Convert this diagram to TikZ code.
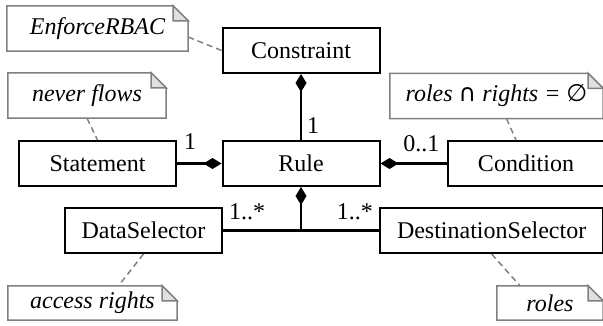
\documentclass[tikz,border=0pt]{standalone}
\usepackage{fontspec}
\setmainfont{Liberation Serif}
\newfontfamily\symbolfont{DejaVu Sans}
\usepackage{tikz}
\usetikzlibrary{positioning,
                arrows.meta}

\begin{document}
\begin{tikzpicture}[x=1pt,y=-1pt,font=\fontsize{24}{28}\selectfont,
  class/.style={draw,line width=2pt,fill=white,minimum width=157pt,minimum height=45pt,inner xsep=15pt},
  notebox/.style={fill=white,minimum height=45pt,inner sep=0pt,font=\fontsize{24}{28}\selectfont\itshape},
  mult/.style={inner sep=0pt},
  comp/.style={line width=2.5pt,-{Diamond[length=18pt,width=11pt]}},
  assoc/.style={line width=2.5pt},
  noteline/.style={draw=black!50,line width=1.5pt},
  anchorline/.style={draw=black!50,line width=1.5pt,dash pattern=on 6pt off 4pt}]
\useasboundingbox (0,0) rectangle (603,326);
% classes
\node [class] (cons) at (301,50.5) {Constraint};
\node [class] (rule) at (301,163.5) {Rule};
\node [class] (stmt) at (97.5,163.5) {Statement};
\node [class] (cond) at (526,163.5) {Condition};
\node [class] (ds) at (143.5,230.5) {DataSelector};
\node [class,inner xsep=17pt,anchor=west] (dsel) at (379,230.5) {DestinationSelector};
% notes
\node [notebox,minimum width=181pt] (enf) at (97.5,28.5) {EnforceRBAC};
\node [notebox,minimum width=158pt] (nf) at (87,95.5) {never flows};
\node [notebox,minimum width=213pt] (rr) at (496.5,96) {roles {\upshape\symbolfont ∩} rights = {\upshape\symbolfont ∅}};
\node [notebox,minimum width=169pt,minimum height=34pt] (ar) at (92.5,303) {access rights};
\node [notebox,minimum width=106pt,minimum height=34pt] (ro) at (550,303) {roles};
\foreach \n in {enf,nf,rr,ar,ro} {
  \draw [noteline] (\n.south west) -- (\n.north west) -- ([xshift=-15pt]\n.north east)
    -- ([yshift=-15pt]\n.north east) -- (\n.south east) -- cycle;
  \filldraw [noteline,fill=black!12] ([xshift=-15pt]\n.north east)
    -- ([xshift=-15pt,yshift=-15pt]\n.north east) -- ([yshift=-15pt]\n.north east) -- cycle;
}
\draw [anchorline] ([yshift=-8.5pt]enf.east) -- (cons.west);
\draw [anchorline] (nf.south) -- (stmt.north);
\draw [anchorline] ([xshift=10pt]rr.south) -- ([xshift=-10pt]cond.north);
\draw [anchorline] (ds.south) -- ([xshift=26pt]ar.north);
\draw [anchorline] (dsel.south) -- ([xshift=-30pt]ro.north);
% compositions
\draw [comp] (rule.north) -- (cons.south);
\draw [comp] (stmt.east) -- (rule.west);
\draw [comp] (cond.west) -- (rule.east);
\coordinate (fork) at (rule.south |- ds.east);
\draw [assoc] (ds.east) -- (dsel.west);
\draw [comp] (fork) -- (rule.south);
% multiplicities
\node [mult,above right=6pt and 6pt of rule.north] (m1) {1};
\node [mult,above right=13.5pt and 7pt of stmt.east] (m2) {1};
\node [mult,above left=11.5pt and 7pt of cond.west] (m3) {0..1};
\node [mult,above right=10.5pt and 6pt of ds.east] (m4) {1..*};
\node [mult,above left=10.5pt and 6pt of dsel.west] (m5) {1..*};
\end{tikzpicture}
\end{document}
